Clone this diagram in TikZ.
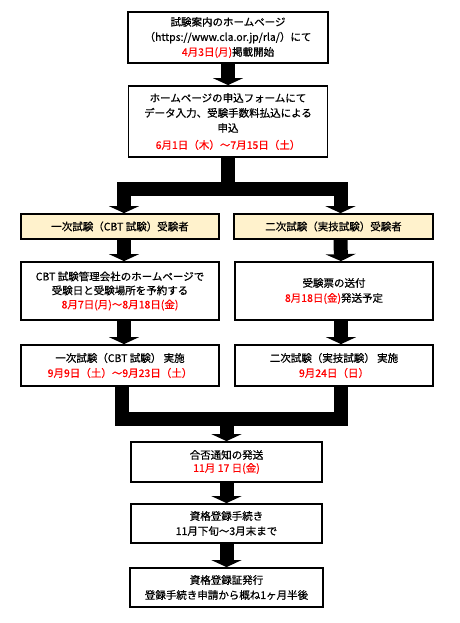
\documentclass[tikz,border=0pt]{standalone}
\usepackage{fontspec}
\setmainfont[FakeBold=0.6]{Noto Sans CJK JP}
\usetikzlibrary{arrows.meta, calc}
\definecolor{applicant}{HTML}{FFF2CC}

\begin{document}
\begin{tikzpicture}[x=1pt, y=-1pt, font=\fontsize{10.5}{15}\selectfont,
  box/.style={draw, line width=1.8pt, fill=white, align=center, inner sep=0pt},
  bar/.style={line width=14pt},
  blk/.style={line width=14pt, -{Triangle[width=30pt, length=7pt]}}]
  \useasboundingbox (0,0) rectangle (459,623);
  \node[box, minimum width=200pt, minimum height=51pt] (guide) at (228,37.5) {試験案内のホームページ\\（https://www.cla.or.jp/rla/）にて\\\textcolor{red}{4月3日(月)}掲載開始};
  \node[box, minimum width=199pt, minimum height=71pt] (apply) at (228,121.5) {ホームページの申込フォームにて\\データ入力、受験手数料払込による\\申込\\[2pt]\textcolor{red}{6月1日（木）～7月15日（土）}};
  \node[box, fill=applicant, minimum width=198pt, minimum height=25pt] (cbtapp) at (120,226.5) {一次試験（CBT 試験）受験者};
  \node[box, fill=applicant, minimum width=199pt, minimum height=25pt] (skillapp) at (333.5,226.5) {二次試験（実技試験）受験者};
  \node[box, minimum width=198pt, minimum height=58pt] (cbtres) at (120,291) {CBT 試験管理会社のホームページで\\[-1pt]受験日と受験場所を予約する\\[-1pt]\textcolor{red}{8月7日(月)～8月18日(金)}};
  \node[box, minimum width=198pt, minimum height=58pt] (ticket) at (334,291) {受験票の送付\\\textcolor{red}{8月18日(金)}発送予定};
  \node[box, minimum width=198pt, minimum height=41pt] (cbtexam) at (120,365.5) {一次試験（CBT 試験） 実施\\\textcolor{red}{9月9日（土）～9月23日（土）}};
  \node[box, minimum width=198pt, minimum height=41pt] (skillexam) at (334,365.5) {二次試験（実技試験） 実施\\\textcolor{red}{9月24日（日）}};
  \node[box, minimum width=191pt, minimum height=40pt] (result) at (226.5,462) {合否通知の発送\\[-2pt]\textcolor{red}{11月 17 日(金)}};
  \node[box, minimum width=191pt, minimum height=39pt] (reg) at (226.5,523.5) {資格登録手続き\\11月下旬～3月末まで};
  \node[box, minimum width=193pt, minimum height=39pt] (cert) at (226.5,587.5) {資格登録証発行\\登録手続き申請から概ね1ヶ月半後};
  \coordinate (split) at ($(apply.south)+(0,31)$);
  \coordinate (join) at ($(result.north)+(0,-24)$);
  \draw[blk] (guide) -- (apply);
  \draw[bar] (apply) -- (split);
  \draw[blk] (split) -| ([xshift=4pt]cbtapp.north);
  \draw[blk] (split) -| ([xshift=7pt]skillapp.north);
  \draw[blk] ([xshift=4pt]cbtapp.south) -- ([xshift=4pt]cbtres.north);
  \draw[blk] ([xshift=7pt]skillapp.south) -- ([xshift=7pt]ticket.north);
  \draw[blk] ([xshift=4pt]cbtres.south) -- ([xshift=4pt]cbtexam.north);
  \draw[blk] ([xshift=7pt]ticket.south) -- ([xshift=7pt]skillexam.north);
  \draw[bar] ([xshift=2pt]cbtexam.south) -- ++(0,32) -| ([xshift=7pt]skillexam.south);
  \draw[blk] (join) -- (result);
  \draw[blk] (result) -- (reg);
  \draw[blk] (reg) -- (cert);
\end{tikzpicture}
\end{document}
